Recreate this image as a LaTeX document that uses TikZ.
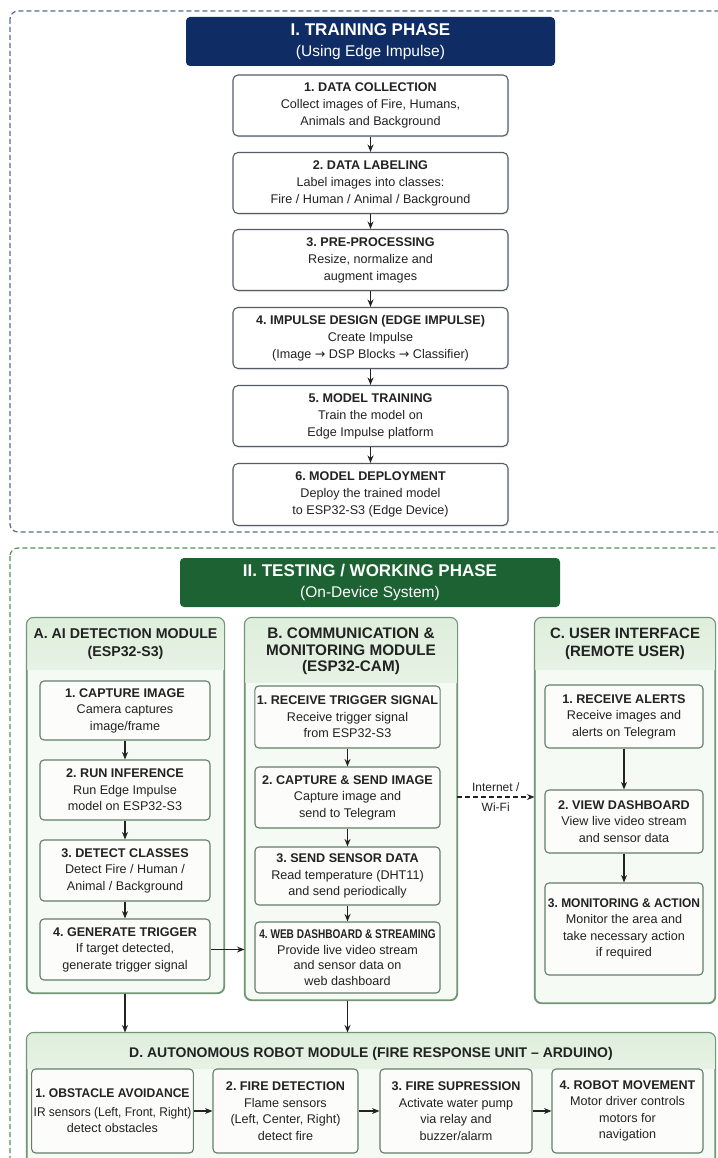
\documentclass[tikz,border=0pt]{standalone}
\usepackage{fontspec}
\setmainfont{Liberation Sans}
\newfontfamily\djv{DejaVu Sans}
\usetikzlibrary{arrows.meta,shadows}
\definecolor{navy}{RGB}{16,44,100}
\definecolor{dgreen}{RGB}{28,98,50}
\definecolor{tborder}{RGB}{85,92,102}
\definecolor{mborder}{RGB}{112,150,118}
\definecolor{mfill}{RGB}{246,250,245}
\definecolor{hfill}{RGB}{222,238,220}
\definecolor{iborder}{RGB}{100,125,104}
\definecolor{ifill}{RGB}{252,253,251}
\definecolor{tdash}{RGB}{88,108,140}
\definecolor{gdash}{RGB}{82,145,92}
\definecolor{txt}{RGB}{34,34,34}
\newcommand{\myarrow}{{\djv →}}
\frenchspacing
\tikzset{
  tbox/.style={draw=tborder, line width=1.1pt, rounded corners=5pt, fill=white,
    align=center, inner sep=2pt, text=txt, font=\fontsize{12.6}{17}\selectfont,
    drop shadow={opacity=0.15, shadow xshift=1pt, shadow yshift=-1.5pt}},
  ibox/.style={draw=iborder, line width=1.1pt, rounded corners=4pt, fill=ifill,
    align=center, inner sep=2pt, text=txt, font=\fontsize{12.6}{16.5}\selectfont},
  modbox/.style={draw=mborder, line width=1.1pt, rounded corners=7pt, fill=mfill},
  hdr/.style={align=center, text=txt, inner sep=1pt},
  phase/.style={rounded corners=4pt, text=white, align=center, inner sep=2pt,
    font=\fontsize{17}{21}\selectfont},
  arr/.style={-{Stealth[length=7.5pt,width=6pt]}, line width=1.1pt, draw=txt},
  tdashed/.style={draw=tdash, line width=1.2pt, dash pattern=on 5pt off 3pt},
  gdashed/.style={draw=gdash, line width=1.2pt, dash pattern=on 5pt off 3pt},
}
\begin{document}
\frenchspacing
\begin{tikzpicture}[x=1pt,y=-1pt]
\useasboundingbox (0,0) rectangle (717,1158);
\fill[white] (0,0) rectangle (717,1158);

% ---------------- Training phase ----------------
\draw[tdashed, rounded corners=8pt] (10,11) rectangle (745,532);
\node[phase, fill=navy, minimum width=369pt, minimum height=49pt] (p1) at (370.5,41.5)
  {\textbf{I. TRAINING PHASE}\\{\fontsize{15.5}{21}\selectfont (Using Edge Impulse)}};

\node[tbox, minimum width=275pt, minimum height=61pt] (t1) at (370.5,105.5)
  {\textbf{1. DATA COLLECTION}\\Collect images of Fire, Humans,\\Animals and Background};
\node[tbox, minimum width=275pt, minimum height=61pt] (t2) at (370.5,183)
  {\textbf{2. DATA LABELING}\\Label images into classes:\\Fire / Human / Animal / Background};
\node[tbox, minimum width=275pt, minimum height=61pt] (t3) at (370.5,260)
  {\textbf{3. PRE-PROCESSING}\\Resize, normalize and\\augment images};
\node[tbox, minimum width=275pt, minimum height=61pt] (t4) at (370.5,338)
  {\textbf{4. IMPULSE DESIGN (EDGE IMPULSE)}\\Create Impulse\\(Image \myarrow{} DSP Blocks \myarrow{} Classifier)};
\node[tbox, minimum width=275pt, minimum height=61pt] (t5) at (370.5,416)
  {\textbf{5. MODEL TRAINING}\\Train the model on\\Edge Impulse platform};
\node[tbox, minimum width=275pt, minimum height=62pt] (t6) at (370.5,494.5)
  {\textbf{6. MODEL DEPLOYMENT}\\Deploy the trained model\\to ESP32-S3 (Edge Device)};
\foreach \a/\b in {t1/t2,t2/t3,t3/t4,t4/t5,t5/t6} \draw[arr] (\a) -- (\b);

% ---------------- Testing phase ----------------
\draw[gdashed, rounded corners=8pt] (10,548) rectangle (745,1195);
\node[phase, fill=dgreen, minimum width=380pt, minimum height=49pt] (p2) at (370,582.5)
  {\textbf{II. TESTING / WORKING PHASE}\\{\fontsize{15.5}{21}\selectfont (On-Device System)}};

% module frames
\node[modbox, minimum width=197pt, minimum height=375pt] (modA) at (125.5,805.5) {};
\node[modbox, minimum width=212pt, minimum height=382pt] (modB) at (351,809) {};
\node[modbox, minimum width=180pt, minimum height=385pt] (modC) at (625,810.5) {};
\node[modbox, minimum width=688pt, minimum height=135pt] (modD) at (371,1100.5) {};
\foreach \m/\h in {modA/52,modB/65,modC/52,modD/36}{
  \begin{scope}
    \clip[rounded corners=7pt] (\m.north west) rectangle (\m.south east);
    \shade[top color=hfill, bottom color=hfill!65!mfill]
      (\m.north west) rectangle ([yshift=-\h pt]\m.north east);
  \end{scope}
  \draw[mborder, line width=1.1pt, rounded corners=7pt] (\m.north west) rectangle (\m.south east);
}

% module headers
\node[hdr, font=\fontsize{14.2}{18}\selectfont\bfseries] (hA) at (125.5,644)
  {A. AI DETECTION MODULE\\(ESP32-S3)};
\node[hdr, font=\fontsize{15.3}{16.5}\selectfont\bfseries] (hB) at (351,651.5)
  {B. COMMUNICATION \&\\MONITORING MODULE\\(ESP32-CAM)};
\node[hdr, font=\fontsize{15}{18}\selectfont\bfseries] (hC) at (625,644)
  {C. USER INTERFACE\\(REMOTE USER)};
\node[hdr, font=\fontsize{14}{18}\selectfont\bfseries] (hD) at (371,1053.5)
  {D. AUTONOMOUS ROBOT MODULE (FIRE RESPONSE UNIT -- ARDUINO)};

% module A boxes
\node[ibox, minimum width=170pt, minimum height=59pt] (a1) at (125,710.5)
  {\textbf{1. CAPTURE IMAGE}\\Camera captures\\image/frame};
\node[ibox, minimum width=170pt, minimum height=60pt] (a2) at (125,790)
  {\textbf{2. RUN INFERENCE}\\Run Edge Impulse\\model on ESP32-S3};
\node[ibox, minimum width=170pt, minimum height=61pt] (a3) at (125,870.5)
  {\textbf{3. DETECT CLASSES}\\Detect Fire / Human /\\Animal / Background};
\node[ibox, minimum width=170pt, minimum height=61pt] (a4) at (125,949.5)
  {\textbf{4. GENERATE TRIGGER}\\If target detected,\\generate trigger signal};
\foreach \a/\b in {a1/a2,a2/a3,a3/a4} \draw[arr] (\a) -- (\b);

% module B boxes
\node[ibox, minimum width=185pt, minimum height=62pt] (b1) at (347.5,717)
  {\textbf{1. RECEIVE TRIGGER SIGNAL}\\Receive trigger signal\\from ESP32-S3};
\node[ibox, minimum width=185pt, minimum height=61pt] (b2) at (347.5,797.5)
  {\textbf{2. CAPTURE \& SEND IMAGE}\\Capture image and\\send to Telegram};
\node[ibox, minimum width=185pt, minimum height=58pt] (b3) at (347.5,876)
  {\textbf{3. SEND SENSOR DATA}\\Read temperature (DHT11)\\and send periodically};
\node[ibox, minimum width=185pt, minimum height=71pt, font=\fontsize{12.6}{15.5}\selectfont] (b4) at (347.5,957.5)
  {\scalebox{0.8}[1]{\textbf{4. WEB DASHBOARD \& STREAMING}}\\Provide live video stream\\and sensor data on\\web dashboard};
\foreach \a/\b in {b1/b2,b2/b3,b3/b4} \draw[arr] (\a) -- (\b);

% module C boxes
\node[ibox, minimum width=158pt, minimum height=63pt] (c1) at (624,716.5)
  {\textbf{1. RECEIVE ALERTS}\\Receive images and\\alerts on Telegram};
\node[ibox, minimum width=158pt, minimum height=63pt] (c2) at (624,821.5)
  {\textbf{2. VIEW DASHBOARD}\\View live video stream\\and sensor data};
\node[ibox, minimum width=158pt, minimum height=92pt] (c3) at (624,929)
  {\scalebox{0.95}[1]{\textbf{3. MONITORING \& ACTION}}\\Monitor the area and\\take necessary action\\if required};
\foreach \a/\b in {c1/c2,c2/c3} \draw[arr] (\a) -- (\b);

% module D boxes
\node[ibox, minimum width=161pt, minimum height=84pt] (d1) at (112.5,1111)
  {\scalebox{0.96}[1]{\textbf{1. OBSTACLE AVOIDANCE}}\\[2pt]\scalebox{0.95}[1]{IR sensors (Left, Front, Right)}\\detect obstacles};
\node[ibox, minimum width=145pt, minimum height=84pt] (d2) at (285.5,1111)
  {\textbf{2. FIRE DETECTION}\\Flame sensors\\(Left, Center, Right)\\detect fire};
\node[ibox, minimum width=152pt, minimum height=84pt] (d3) at (456,1111)
  {\textbf{3. FIRE SUPRESSION}\\Activate water pump\\via relay and\\buzzer/alarm};
\node[ibox, minimum width=151pt, minimum height=84pt] (d4) at (627.5,1111)
  {\textbf{4. ROBOT MOVEMENT}\\Motor driver controls\\motors for\\navigation};
\foreach \a/\b in {d1/d2,d2/d3,d3/d4} \draw[arr] (\a) -- (\b);

% inter-module connectors
\draw[arr] (a4.east) -- (a4.east -| modB.west);
\coordinate (netS) at (457,797);
\draw[arr, dash pattern=on 5pt off 3pt] (netS) -- (netS -| modC.west)
  node[midway, above=2pt, text=txt, font=\fontsize{12}{14}\selectfont] (lnet) {Internet /}
  node[midway, below=2pt, text=txt, font=\fontsize{12}{14}\selectfont] (lwifi) {Wi-Fi};
\draw[arr] (a4.south |- modA.south) -- (a4.south |- modD.north);
\draw[arr] (b4.south |- modB.south) -- (b4.south |- modD.north);
\end{tikzpicture}
\end{document}
